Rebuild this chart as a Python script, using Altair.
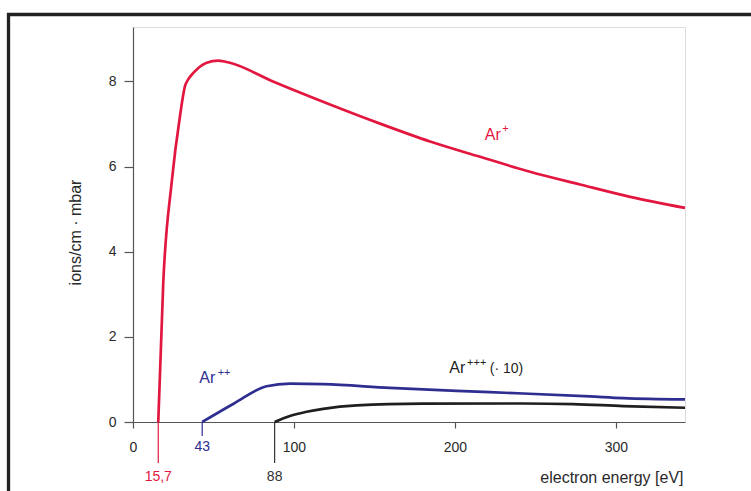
import altair as alt
import pandas as pd

# ---- data ----
ar1_x = [15.7, 18.8, 24.0, 29.2, 32.3, 34.3, 37.5, 45.8, 53.0, 60.2, 87.0, 122.4, 153.5, 184.6, 215.7, 246.7, 277.8, 308.9, 343.0]
ar1_y = [0.0, 3.27, 5.62, 7.19, 7.89, 8.05, 8.20, 8.44, 8.49, 8.44, 8.00, 7.46, 7.01, 6.59, 6.23, 5.88, 5.58, 5.29, 5.03]

ar2_x = [43.0, 62.5, 83.0, 97.5, 118.2, 159.6, 201.1, 242.4, 283.9, 304.5, 343.0]
ar2_y = [0.0, 0.43, 0.84, 0.90, 0.89, 0.80, 0.73, 0.67, 0.60, 0.56, 0.53]

ar3_x = [88.0, 97.5, 107.9, 118.2, 139.0, 180.3, 242.4, 273.5, 304.5, 343.0]
ar3_y = [0.0, 0.14, 0.24, 0.31, 0.39, 0.43, 0.435, 0.42, 0.375, 0.335]

series_names = ["Ar+", "Ar++", "Ar+++"]
series_colors = ["#e2173f", "#2e2e91", "#1f1f1f"]

x_ticks = [0, 100, 200, 300]
y_ticks = [0, 2, 4, 6, 8]

thresholds = [15.7, 43, 88]
threshold_labels = ["15,7", "43", "88"]

W, H = 552, 395
X_MAX, Y_MAX = 343, 9.28
PAD_L, PAD_T = 133, 27

xs = alt.Scale(domain=[0, X_MAX], nice=False, zero=False)
ys = alt.Scale(domain=[0, Y_MAX], nice=False, zero=False)

frames = []
for name, xv, yv in zip(series_names, [ar1_x, ar2_x, ar3_x], [ar1_y, ar2_y, ar3_y]):
    frames.append(pd.DataFrame({"E": xv, "I": yv, "series": name}))
lines_df = pd.concat(frames, ignore_index=True)

TXT = "#2a2a2a"
AX = "#555555"

lines = alt.Chart(lines_df).mark_line(strokeWidth=2.7, interpolate="monotone", clip=False).encode(
    x=alt.X("E:Q", scale=xs, axis=alt.Axis(
        values=x_ticks, title="electron energy [eV]", grid=False,
        domainColor=AX, domainWidth=1.2, tickColor=AX, tickWidth=1.2, tickSize=6,
        labelFontSize=14, labelColor=TXT, labelPadding=12, labelFlush=False,
        titleFontSize=16, titleFontWeight="normal", titleColor=TXT,
        titleX=W - 2, titleY=55, titleAlign="right", titleBaseline="middle")),
    y=alt.Y("I:Q", scale=ys, axis=alt.Axis(
        values=y_ticks, title="ions/cm · mbar", grid=False,
        domainColor=AX, domainWidth=1.2, tickColor=AX, tickWidth=1.2, tickSize=9,
        labelFontSize=14, labelColor=TXT, labelPadding=8,
        titleFontSize=16, titleFontWeight="normal", titleColor=TXT,
        titleX=-58, titleY=205, titleAngle=-90, titleAlign="center", titleBaseline="middle")),
    color=alt.Color("series:N", scale=alt.Scale(domain=series_names, range=series_colors), legend=None),
    detail="series:N",
)

layers = [lines]

# threshold ticks and labels
tick_lens = [41, 14, 41]
label_offs = [55, 25, 55]
thr_colors = [series_colors[0], series_colors[1], "#333333"]
for v, lab, c, tl, lo in zip(thresholds, threshold_labels, thr_colors, tick_lens, label_offs):
    d = pd.DataFrame({"E": [v], "label": [lab]})
    layers.append(alt.Chart(d).mark_rule(color=c, strokeWidth=1.2).encode(
        x=alt.X("E:Q", scale=xs), y=alt.value(H), y2=alt.value(H + tl)))
    layers.append(alt.Chart(d).mark_text(color=c, fontSize=14, align="center", baseline="middle").encode(
        x=alt.X("E:Q", scale=xs), y=alt.value(H + lo), text="label:N"))

# series labels (base text + superscript)
lab_base = pd.DataFrame({"E": [218.6, 41.2, 196.5], "I": [6.62, 0.92, 1.156], "t": ["Ar", "Ar", "Ar"],
                         "series": series_names})
lab_sup = pd.DataFrame({"E": [229.5, 52.6, 207.6], "I": [6.82, 1.08, 1.32], "t": ["+", "++", "+++"],
                        "series": series_names})
lab_extra = pd.DataFrame({"E": [221.7], "I": [1.156], "t": ["(· 10)"]})

cscale = alt.Scale(domain=series_names, range=series_colors)
layers.append(alt.Chart(lab_base).mark_text(fontSize=16, align="left", baseline="alphabetic").encode(
    x=alt.X("E:Q", scale=xs), y=alt.Y("I:Q", scale=ys), text="t:N",
    color=alt.Color("series:N", scale=cscale, legend=None)))
layers.append(alt.Chart(lab_sup).mark_text(fontSize=11, align="left", baseline="alphabetic").encode(
    x=alt.X("E:Q", scale=xs), y=alt.Y("I:Q", scale=ys), text="t:N",
    color=alt.Color("series:N", scale=cscale, legend=None)))
layers.append(alt.Chart(lab_extra).mark_text(fontSize=14, align="left", baseline="alphabetic", color="#1f1f1f").encode(
    x=alt.X("E:Q", scale=xs), y=alt.Y("I:Q", scale=ys), text="t:N"))

# black frame (decoration)
one = pd.DataFrame({"a": [0]})
layers.append(alt.Chart(one).mark_rule(color="#222222", strokeWidth=3.3).encode(
    x=alt.value(7 - PAD_L), x2=alt.value(751 - PAD_L), y=alt.value(14.5 - PAD_T)))
layers.append(alt.Chart(one).mark_rule(color="#222222", strokeWidth=3.3).encode(
    x=alt.value(8.5 - PAD_L), y=alt.value(13 - PAD_T), y2=alt.value(491 - PAD_T)))

chart = alt.layer(*layers).properties(
    width=W, height=H,
    autosize=alt.AutoSizeParams(type="none"),
    padding={"left": PAD_L, "top": PAD_T, "right": 751 - PAD_L - W, "bottom": 491 - PAD_T - H},
    background="white",
).configure_view(stroke=None).configure(font="Liberation Sans")

chart.save("out.html", embed_options={"renderer": "svg", "actions": False})
